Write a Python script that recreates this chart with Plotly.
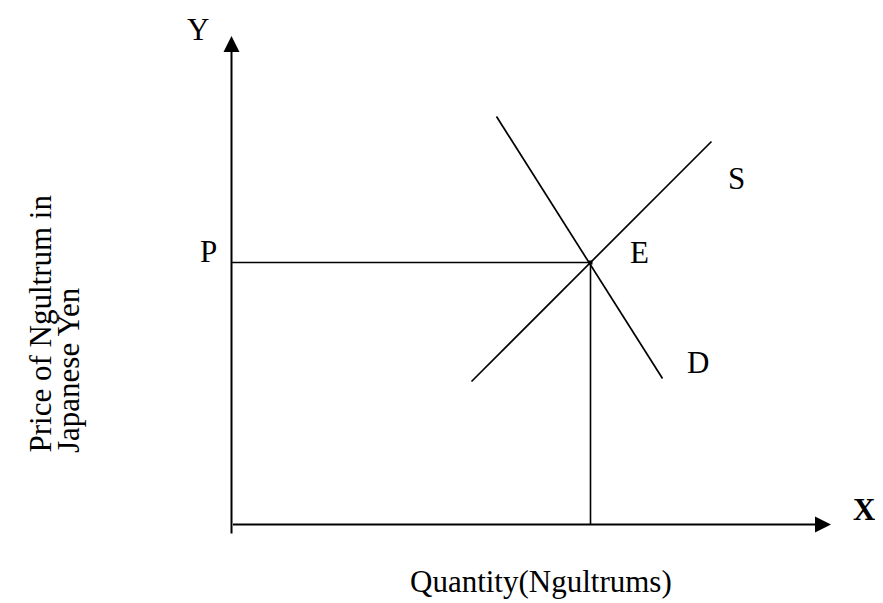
import plotly.graph_objects as go

# Demand and supply schedule (quantity of Ngultrums, price in Japanese Yen)
SUPPLY_Q = [24.0, 48.0]
SUPPLY_P = [14.3, 38.3]
DEMAND_Q = [26.5, 43.1]
DEMAND_P = [40.8, 14.6]
EQUILIBRIUM_Q = [35.9]
EQUILIBRIUM_P = [26.2]
AXIS_Q_END = 59.95
AXIS_P_END = 48.85
AXIS_P_START = -1.05

FONT = "Liberation Serif"
BLACK = "#000000"


def line_trace(x, y, width):
    return go.Scatter(x=x, y=y, mode="lines", line=dict(color=BLACK, width=width),
                      hoverinfo="skip", showlegend=False)


qe, pe = EQUILIBRIUM_Q[0], EQUILIBRIUM_P[0]

fig = go.Figure()
fig.add_trace(line_trace(SUPPLY_Q, SUPPLY_P, 1.7))
fig.add_trace(line_trace(DEMAND_Q, DEMAND_P, 1.7))
# guides from E to the axes
fig.add_trace(line_trace([0, qe], [pe, pe], 1.6))
fig.add_trace(line_trace([qe, qe], [pe, 0], 1.6))
fig.add_trace(go.Scatter(x=EQUILIBRIUM_Q, y=EQUILIBRIUM_P, mode="markers",
                         marker=dict(color=BLACK, size=4, symbol="square"),
                         hoverinfo="skip", showlegend=False))

# axes with arrow heads
fig.add_annotation(x=0, y=AXIS_P_END, ax=0, ay=AXIS_P_START, xref="x", yref="y",
                   axref="x", ayref="y", text="", showarrow=True, arrowhead=2,
                   arrowwidth=2, arrowsize=1.6, arrowcolor=BLACK)
fig.add_annotation(x=AXIS_Q_END, y=0, ax=0, ay=0, xref="x", yref="y",
                   axref="x", ayref="y", text="", showarrow=True, arrowhead=2,
                   arrowwidth=2, arrowsize=1.6, arrowcolor=BLACK)

labels = [
    ("Y", -3.35, 49.55),
    ("<b>X</b>", 63.25, 1.55),
    ("P", -2.35, 27.35),
    ("E", 40.75, 27.25),
    ("S", 50.45, 34.65),
    ("D", 46.65, 16.25),
    ("Quantity(Ngultrums)", 30.95, -5.65),
]
for text, x, y in labels:
    fig.add_annotation(x=x, y=y, xref="x", yref="y", text=text, showarrow=False,
                       font=dict(family=FONT, size=31, color=BLACK))

# y axis title, two lines starting at the same height
for text, x in [("Price of Ngultrum in", -19.2), ("Japanese Yen", -16.35)]:
    fig.add_annotation(x=x, y=6.95, xref="x", yref="y", text=text, showarrow=False,
                       textangle=-90, xanchor="center", yanchor="bottom",
                       font=dict(family=FONT, size=31, color=BLACK))

# the page adds an 8px body margin; the figure starts there and runs to the window edge
fig.update_xaxes(range=[-22.35, 65.15], visible=False, fixedrange=True)
fig.update_yaxes(range=[-7.85, 51.65], visible=False, fixedrange=True)
fig.update_layout(
    width=875, height=595,
    margin=dict(l=0, r=0, t=0, b=0),
    paper_bgcolor="white", plot_bgcolor="white",
    showlegend=False,
)

fig.write_html("out.html", config={"displayModeBar": False})
